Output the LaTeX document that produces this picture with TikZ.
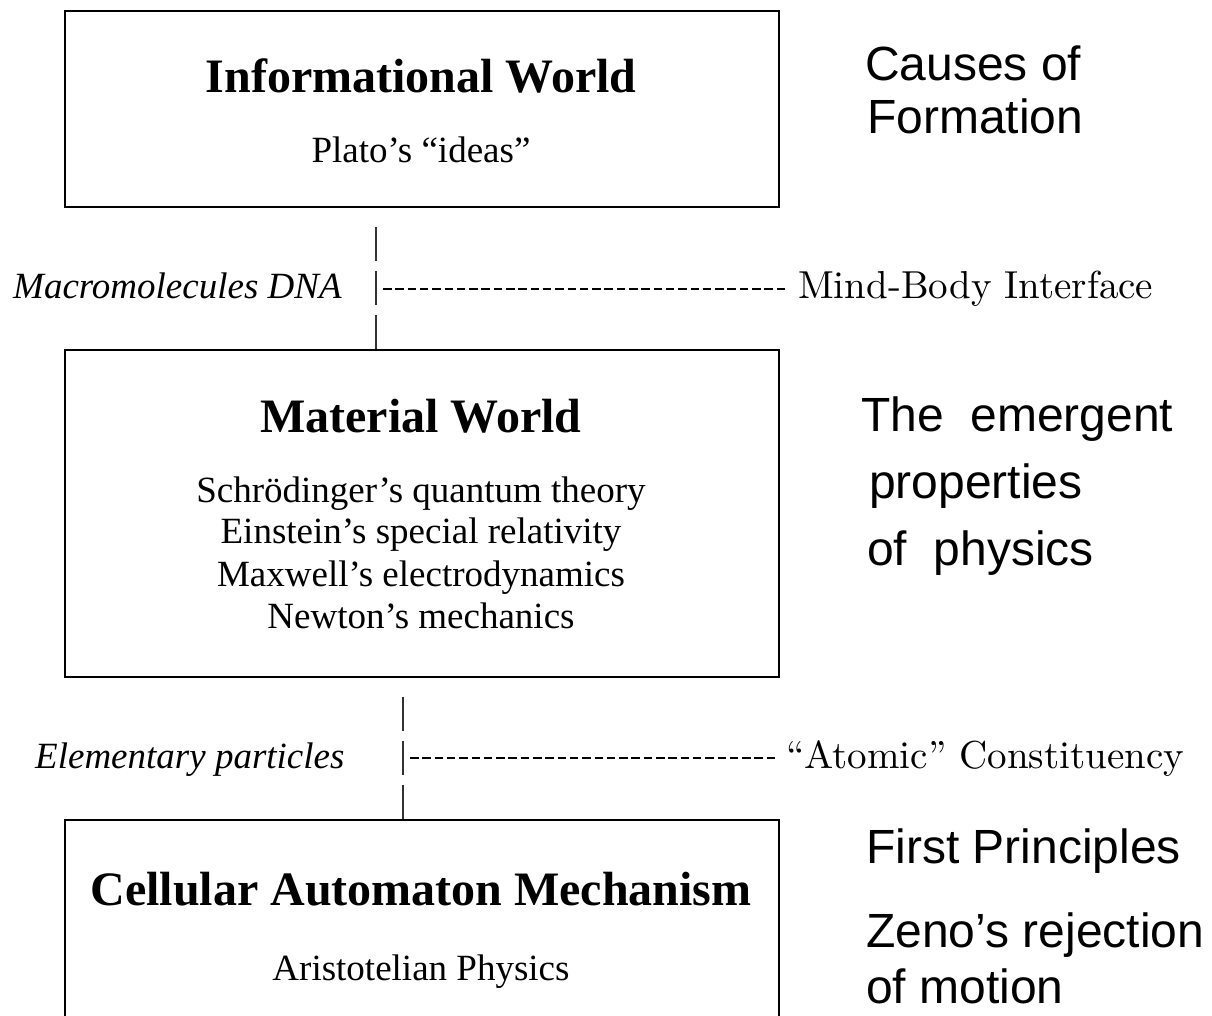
\documentclass[tikz,border=0pt]{standalone}
\usepackage{fontspec}
\setmainfont{Liberation Serif}
\newfontfamily\sansf{Liberation Sans}
\newfontfamily\lmserif{lmroman10-regular.otf}
\begin{document}
\begin{tikzpicture}[x=1pt,y=-1pt,
  boxst/.style={draw=black,line width=2.6pt,minimum width=714pt,inner sep=0pt},
  titlest/.style={anchor=base,inner sep=0pt,font=\bfseries\fontsize{48}{52}\selectfont},
  bodyst/.style={anchor=base,inner sep=0pt,font=\fontsize{37}{42}\selectfont},
  sidest/.style={anchor=base west,inner sep=0pt,font=\sansf\fontsize{48}{54}\selectfont},
  itst/.style={anchor=base west,inner sep=0pt,font=\itshape\fontsize{37}{42}\selectfont},
  lmst/.style={anchor=base west,inner sep=0pt,font=\lmserif\fontsize{39}{44}\selectfont},
  vline/.style={line width=1.5pt,draw=black!80},
  dashline/.style={line width=2.6pt,dash pattern=on 8.5pt off 3.8pt}]
\useasboundingbox (0,0) rectangle (1212,1015);
\clip (0,0) rectangle (1212,1015);
% boxes
\node[boxst,minimum height=196pt] (box1) at (422,109) {};
\node[boxst,minimum height=327pt] (box2) at (422,513.5) {};
\node[boxst,minimum height=260pt] (box3) at (422,950) {};
% box texts
\node[titlest] (t1) at (421,92) {Informational World};
\node[bodyst] (s1) at (421,162) {Plato’s “ideas”};
\node[titlest] (t2) at (421,432) {Material World};
\node[bodyst] (s2a) at (421,502) {Schrödinger’s quantum theory};
\node[bodyst] (s2b) at (421,543) {Einstein’s special relativity};
\node[bodyst] (s2c) at (421,586) {Maxwell’s electrodynamics};
\node[bodyst] (s2d) at (421,628) {Newton’s mechanics};
\node[titlest] (t3) at (421,905) {Cellular Automaton Mechanism};
\node[bodyst] (s3) at (421,980) {Aristotelian Physics};
% right labels
\node[sidest] (r1a) at (865,80) {Causes of};
\node[sidest] (r1b) at (867,133) {Formation};
\node[sidest] (r2a) at (861,431) {The\ \ emergent};
\node[sidest] (r2b) at (869,498) {properties};
\node[sidest] (r2c) at (867,565) {of\ \ physics};
\node[sidest] (r3a) at (866,863) {First Principles};
\node[sidest] (r3b) at (866,947) {Zeno’s rejection};
\node[sidest] (r3c) at (866,1003) {of motion};
% connector 1
\coordinate (a1) at (376,227);
\coordinate (a2) at (376,261);
\coordinate (a3) at (376,271);
\coordinate (a4) at (376,305);
\coordinate (a5) at (376,315);
\coordinate (d1) at (383,289);
\coordinate (d2) at (788,289);
\draw[vline] (a1) -- (a2);
\draw[vline] (a3) -- (a4);
\draw[vline] (a5) -- (a5 |- box2.north);
\draw[dashline] (d1) -- (d2);
\node[itst] (l1) at (13,298) {Macromolecules DNA};
\node[lmst] (m1) at (798,298) {Mind-Body Interface};
% connector 2
\coordinate (b1) at (403,697);
\coordinate (b2) at (403,731);
\coordinate (b3) at (403,741);
\coordinate (b4) at (403,775);
\coordinate (b5) at (403,785);
\coordinate (e1) at (410,758);
\coordinate (e2) at (776,758);
\draw[vline] (b1) -- (b2);
\draw[vline] (b3) -- (b4);
\draw[vline] (b5) -- (b5 |- box3.north);
\draw[dashline] (e1) -- (e2);
\node[itst] (l2) at (35,768) {Elementary particles};
\node[lmst] (m2) at (786,768) {“Atomic” Constituency};
\end{tikzpicture}
\end{document}
